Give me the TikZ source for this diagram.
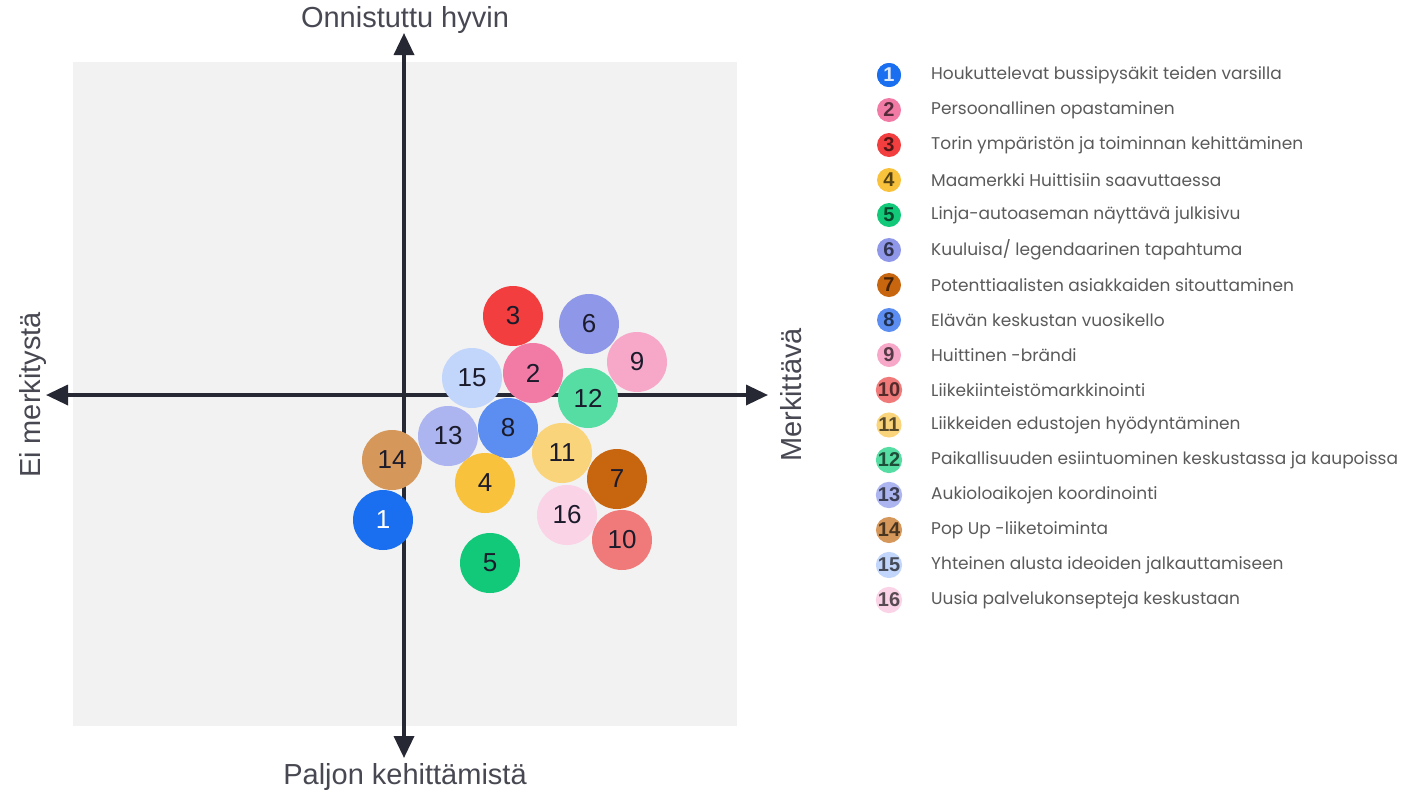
\documentclass[tikz,border=0pt]{standalone}
\usepackage{fontspec}
\setmainfont{Liberation Sans}
\newfontfamily\legfont{Poppins}
\usetikzlibrary{arrows.meta}
\definecolor{bgcol}{HTML}{F2F2F2}
\definecolor{axcol}{HTML}{262834}
\definecolor{numcol}{HTML}{1B1B2B}
\definecolor{legtext}{HTML}{5A5A5A}
\definecolor{c1}{HTML}{1A6EF0}
\definecolor{c2}{HTML}{F27BA6}
\definecolor{c3}{HTML}{F23E3E}
\definecolor{c4}{HTML}{F9C23C}
\definecolor{c5}{HTML}{12C97A}
\definecolor{c6}{HTML}{8F98E8}
\definecolor{c7}{HTML}{C8650F}
\definecolor{c8}{HTML}{5B8EF0}
\definecolor{c9}{HTML}{F7A8C9}
\definecolor{c10}{HTML}{F07A7A}
\definecolor{c11}{HTML}{FAD47A}
\definecolor{c12}{HTML}{55DDA3}
\definecolor{c13}{HTML}{ACB5F0}
\definecolor{c14}{HTML}{D5975A}
\definecolor{c15}{HTML}{C2D5FA}
\definecolor{c16}{HTML}{FAD3E6}
\tikzset{
  axisline/.style={line width=3.5pt, draw=axcol, -{Triangle[length=22pt,width=20pt]}},
  axislabel/.style={font=\fontsize{29}{29}\selectfont, text=axcol!85, inner sep=0pt},
  bubble/.style={circle, minimum size=60pt, inner sep=0pt, text=numcol, font=\fontsize{26}{26}\selectfont},
  legdot/.style={circle, minimum size=24pt, inner sep=0pt, font=\fontsize{20}{20}\selectfont\bfseries},
  legentry/.style={anchor=west, inner sep=0pt, text=legtext, font=\legfont\fontsize{17}{17}\selectfont}
}
\begin{document}
\begin{tikzpicture}[x=1pt,y=-1pt]
\useasboundingbox (0,0) rectangle (1405,796);
\fill[bgcol] (73,62) rectangle (737,726);
% axes
\coordinate (O) at (404,395);
\coordinate (T) at (404,33);
\coordinate (B) at (404,758);
\coordinate (L) at (46,395);
\coordinate (R) at (768,395);
\draw[axisline] (O) -- (T);
\draw[axisline] (O) -- (B);
\draw[axisline] (O) -- (L);
\draw[axisline] (O) -- (R);
\node[axislabel] (top) at (405,20) {Onnistuttu hyvin};
\node[axislabel] (bot) at (405,777) {Paljon kehittämistä};
\node[axislabel, rotate=90] (lft) at (33,395) {Ei merkitystä};
\node[axislabel, rotate=90] (rgt) at (791,395) {Merkittävä};
% bubbles
\node[bubble, fill=c15] (b15) at (472,378) {15};
\node[bubble, fill=c2]  (b2)  at (533,373) {2};
\node[bubble, fill=c3]  (b3)  at (513,316) {3};
\node[bubble, fill=c6]  (b6)  at (589,324) {6};
\node[bubble, fill=c9]  (b9)  at (637,362) {9};
\node[bubble, fill=c12] (b12) at (588,398) {12};
\node[bubble, fill=c14] (b14) at (392,460) {14};
\node[bubble, fill=c13] (b13) at (448,436) {13};
\node[bubble, fill=c8]  (b8)  at (508,428) {8};
\node[bubble, fill=c1, text=white] (b1) at (383,520) {1};
\node[bubble, fill=c4]  (b4)  at (485,483) {4};
\node[bubble, fill=c16] (b16) at (567,515) {16};
\node[bubble, fill=c11] (b11) at (562,453) {11};
\node[bubble, fill=c10] (b10) at (622,540) {10};
\node[bubble, fill=c7]  (b7)  at (617,479) {7};
\node[bubble, fill=c5]  (b5)  at (490,563) {5};
% legend
\foreach \i/\txt in {
  1/Houkuttelevat bussipysäkit teiden varsilla,
  2/Persoonallinen opastaminen,
  3/Torin ympäristön ja toiminnan kehittäminen,
  4/Maamerkki Huittisiin saavuttaessa,
  5/Linja-autoaseman näyttävä julkisivu,
  6/Kuuluisa\slash\ legendaarinen tapahtuma,
  7/Potenttiaalisten asiakkaiden sitouttaminen,
  8/Elävän keskustan vuosikello,
  9/Huittinen -brändi,
  10/Liikekiinteistömarkkinointi,
  11/Liikkeiden edustojen hyödyntäminen,
  12/Paikallisuuden esiintuominen keskustassa ja kaupoissa,
  13/Aukioloaikojen koordinointi,
  14/Pop Up -liiketoiminta,
  15/Yhteinen alusta ideoiden jalkauttamiseen,
  16/Uusia palvelukonsepteja keskustaan}{
  \pgfmathsetmacro{\yy}{75+35*(\i-1)}
  \node[legdot, fill=c\i, text=c\i!35!black] (d\i) at (889,\yy) {\i};
  \node[legentry] (t\i) at (931,\yy) {\txt};
}
\node[legdot, fill=c1, text=white!85!c1] at (d1) {1};
\end{tikzpicture}
\end{document}
